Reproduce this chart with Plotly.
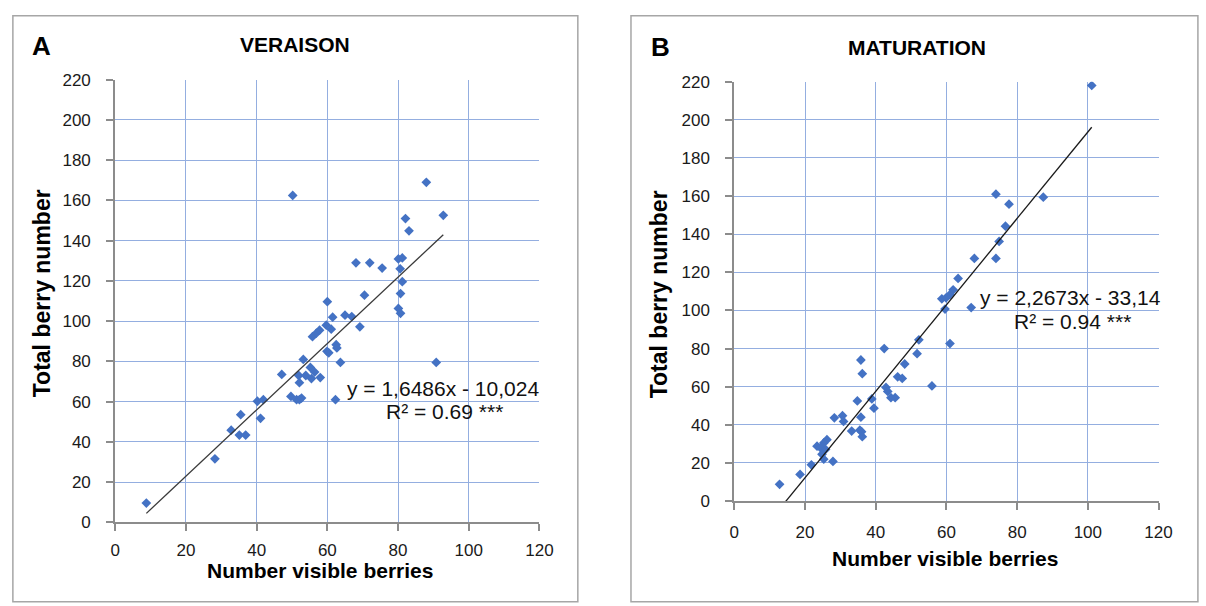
import plotly.graph_objects as go

# ---------------- data ----------------
veraison_visible = [8.8, 28.2, 32.8, 35.5, 35.1, 36.9, 40.2, 41.1, 41.9, 47.1,
                    50.2, 49.7, 51.9, 51.3, 52.1, 52.7, 52.1, 53.2, 53.9, 55.2,
                    55.5, 56.4, 58.0, 55.8, 56.9, 57.8, 59.7, 60.0, 61.1, 61.5,
                    59.9, 60.4, 62.5, 62.7, 63.7, 62.3, 65.0, 66.9, 69.2, 70.5,
                    68.1, 72.0, 75.5, 80.1, 81.2, 80.6, 81.2, 80.7, 80.1, 80.7,
                    82.1, 83.1, 88.0, 92.8, 90.8]
veraison_total = [9.6, 31.6, 45.8, 53.5, 43.4, 43.4, 60.2, 51.7, 61.0, 73.5,
                  162.5, 62.6, 73.0, 61.0, 61.0, 61.8, 69.4, 81.0, 73.0, 77.0,
                  71.5, 74.7, 72.0, 92.3, 94.0, 95.5, 98.0, 109.7, 96.0, 102.0,
                  85.0, 84.3, 88.3, 86.7, 79.5, 61.0, 103.0, 102.3, 97.2, 112.9,
                  129.0, 129.0, 126.4, 130.9, 131.4, 126.0, 119.6, 113.7, 106.3, 103.9,
                  151.0, 144.9, 169.0, 152.6, 79.5]

maturation_visible = [101.1, 74.0, 77.7, 87.4, 76.7, 74.9, 74.0, 67.9, 63.3, 61.9,
                      61.0, 58.7, 59.9, 59.6, 67.0, 61.0, 52.2, 51.7, 42.4, 48.2,
                      35.8, 36.2, 46.2, 47.5, 55.9, 42.9, 43.4, 44.3, 45.5, 38.9,
                      39.5, 34.8, 35.8, 36.0, 36.2, 33.2, 28.3, 30.6, 30.9, 26.2,
                      25.3, 23.4, 24.4, 25.8, 24.8, 25.3, 27.9, 21.8, 18.6, 12.8,
                      35.5]
maturation_total = [218.0, 161.0, 155.7, 159.4, 144.2, 136.2, 127.3, 127.3, 116.8, 110.8,
                    108.3, 106.1, 106.6, 100.7, 101.5, 82.6, 84.6, 77.3, 80.0, 71.9,
                    74.0, 66.8, 65.2, 64.3, 60.4, 59.6, 57.5, 54.2, 54.2, 53.6,
                    48.7, 52.5, 44.0, 36.4, 33.8, 36.7, 43.7, 44.8, 41.8, 32.2,
                    30.5, 28.8, 27.9, 27.1, 24.5, 22.0, 20.8, 19.0, 14.0, 8.8,
                    37.2]

veraison_slope, veraison_intercept = 1.6486, -10.024
maturation_slope, maturation_intercept = 2.2673, -33.14

panel_letters = ["A", "B"]
panel_titles = ["VERAISON", "MATURATION"]
equations = ["y = 1,6486x - 10,024", "y = 2,2673x - 33,14"]
r2_labels = ["R² = 0.69 ***", "R² = 0.94 ***"]
x_title = "Number visible berries"
y_title = "Total berry number"

# ---------------- layout helpers ----------------
W, H = 1206, 606
def px(x):
    return x / W
def py(y):
    return 1 - y / H

MARK = "#4472C4"
GRID = "#94AEE0"
AXIS = "#8C8C8C"
TXT = "#1a1a1a"
FONT = "Liberation Sans, Arial, sans-serif"

fig = go.Figure()

def trend(xs, m, b):
    lo, hi = min(xs), max(xs)
    return [lo, hi], [m * lo + b, m * hi + b]

tx, ty = trend(veraison_visible, veraison_slope, veraison_intercept)
fig.add_trace(go.Scatter(x=veraison_visible, y=veraison_total, mode="markers",
                         marker=dict(symbol="diamond", size=7.5, color=MARK),
                         xaxis="x", yaxis="y", showlegend=False))
fig.add_trace(go.Scatter(x=tx, y=ty, mode="lines", line=dict(color="#3a3a3a", width=1.3),
                         xaxis="x", yaxis="y", showlegend=False))

tx2, ty2 = trend(maturation_visible, maturation_slope, maturation_intercept)
fig.add_trace(go.Scatter(x=maturation_visible, y=maturation_total, mode="markers",
                         marker=dict(symbol="diamond", size=7.5, color=MARK),
                         xaxis="x2", yaxis="y2", showlegend=False))
fig.add_trace(go.Scatter(x=tx2, y=ty2, mode="lines", line=dict(color="#1a1a1a", width=1.3),
                         xaxis="x2", yaxis="y2", showlegend=False))

axis_common = dict(
    showgrid=True, gridcolor=GRID, gridwidth=1,
    showline=True, linecolor=AXIS, linewidth=2,
    ticks="outside", ticklen=7, tickcolor=AXIS, tickwidth=1.5,
    zeroline=False, dtick=20, tick0=0,
    tickfont=dict(family=FONT, size=17, color=TXT),
    fixedrange=True,
)

fig.update_layout(
    width=W, height=H,
    margin=dict(l=0, r=0, t=0, b=0),
    paper_bgcolor="white", plot_bgcolor="white",
    xaxis=dict(domain=[px(112), px(543)], range=[0, 120], anchor="y",
               ticklabelstandoff=4, **axis_common),
    yaxis=dict(domain=[py(530), py(73)], range=[0, 220], anchor="x",
               ticklabelstandoff=12, **axis_common),
    xaxis2=dict(domain=[px(741), px(1172)], range=[0, 120], anchor="y2",
                ticklabelstandoff=8, **axis_common),
    yaxis2=dict(domain=[py(508), py(75)], range=[0, 220], anchor="x2",
                ticklabelstandoff=12, **axis_common),
)

# panel frames
frames = [(8, 7, 582, 612), (636, 7, 1212, 612)]
for x0, y0, x1, y1 in frames:
    fig.add_shape(type="rect", xref="paper", yref="paper",
                  x0=px(x0), x1=px(x1), y0=py(y1), y1=py(y0),
                  line=dict(color="#A6A6A6", width=1.5), fillcolor="rgba(0,0,0,0)",
                  layer="below")

def ann(text, x, y, size, bold=False, angle=0, color=TXT):
    fig.add_annotation(text=("<b>%s</b>" % text) if bold else text,
                       xref="paper", yref="paper", x=px(x), y=py(y),
                       xanchor="center", yanchor="middle", showarrow=False,
                       textangle=angle,
                       font=dict(family=FONT, size=size, color=color))

# panel letters and titles
ann(panel_letters[0], 37, 38, 26, bold=True, color="black")
ann(panel_letters[1], 666, 39, 26, bold=True, color="black")
ann(panel_titles[0], 295, 37, 21, bold=True, color="black")
ann(panel_titles[1], 927, 40, 21, bold=True, color="black")

# axis titles
ann(x_title, 320, 580, 21, bold=True, color="black")
ann(x_title, 955, 567, 21, bold=True, color="black")
ann(y_title, 37, 293, 23, bold=True, angle=-90, color="black")
ann(y_title, 664, 295, 23, bold=True, angle=-90, color="black")

# equations
ann(equations[0], 445, 392, 21, color="#111")
ann(r2_labels[0], 447, 416, 21, color="#111")
ann(equations[1], 1083, 298, 21, color="#111")
ann(r2_labels[1], 1085, 323, 21, color="#111")

fig.write_html("out.html")
